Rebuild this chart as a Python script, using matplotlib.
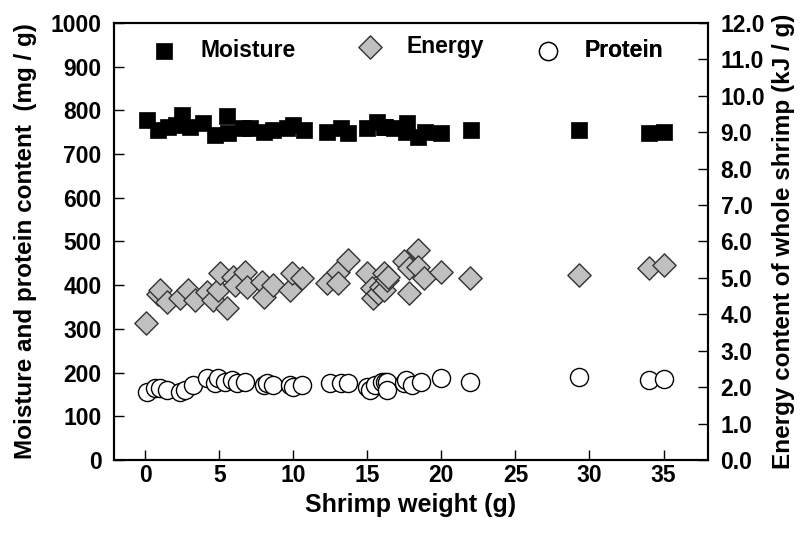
import matplotlib
matplotlib.use("Agg")
import matplotlib.pyplot as plt

plt.rcParams['font.family'] = ['Liberation Sans', 'DejaVu Sans']
plt.rcParams['font.weight'] = 'bold'

# moisture (mg/g) vs shrimp weight (g)
moist_x = [0.1, 0.9, 1.56, 2.1, 2.5, 3.0, 3.9, 4.7, 5.5, 5.6, 6.6, 7.1, 8.0, 8.66,
           9.6, 10.0, 10.7, 12.3, 13.2, 13.7, 15.0, 15.65, 16.1, 16.2, 16.8, 17.6,
           17.7, 18.45, 18.9, 20.0, 22.0, 29.3, 34.0, 35.0]
moist_y = [778, 755, 763, 767, 789, 763, 771, 744, 786, 748, 760, 760, 751, 755,
           760, 767, 755, 751, 760, 748, 760, 774, 763, 763, 760, 751,
           771, 740, 751, 748, 755, 755, 748, 751]

# energy (kJ/g) vs shrimp weight (g)
energy_x = [0.05, 0.9, 1.0, 1.47, 2.36, 2.9, 3.4, 4.17, 4.6, 4.9, 5.07, 5.5, 5.95,
            6.08, 6.76, 6.87, 7.9, 8.0, 8.66, 9.8, 9.9, 10.6, 12.3, 13.05, 13.05,
            13.7, 15.0, 15.3, 15.4, 15.75, 15.9, 16.1, 16.1, 16.3, 16.4, 17.45,
            17.8, 17.8, 18.4, 18.45, 18.8, 20.0, 21.96, 29.3, 34.0, 35.0]
energy_y = [3.77, 4.55, 4.67, 4.34, 4.45, 4.67, 4.39, 4.62, 4.39, 4.67, 5.14, 4.18,
            5.03, 4.80, 5.16, 4.76, 4.90, 4.48, 4.80, 4.67, 5.14, 4.99, 4.86, 5.16,
            4.86, 5.50, 5.14, 4.73, 4.45, 4.58, 4.75, 4.67, 5.14, 4.94, 5.03, 5.45,
            5.27, 4.58, 5.77, 5.30, 4.99, 5.16, 4.99, 5.08, 5.27, 5.35]

# protein (mg/g) vs shrimp weight (g)
prot_x = [0.1, 0.7, 1.0, 1.47, 2.36, 2.7, 3.25, 4.2, 4.7, 4.95, 5.4, 5.85, 6.2,
          6.76, 8.0, 8.2, 8.66, 9.8, 10.0, 10.6, 12.5, 13.2, 13.7, 15.0, 15.2,
          15.5, 16.0, 16.2, 16.3, 16.3, 17.45, 17.6, 18.0, 18.6, 20.0, 21.96,
          29.3, 34.0, 35.0]
prot_y = [156, 165, 165, 160, 156, 160, 171, 187, 176, 187, 179, 183, 176,
          179, 171, 176, 171, 171, 168, 171, 176, 176, 176, 168, 160,
          171, 179, 179, 179, 160, 176, 183, 171, 179, 187, 179,
          190, 183, 185]

fs = 16.5

fig = plt.figure(figsize=(8, 5.33), dpi=100)
ax = fig.add_axes([0.1425, 0.137, 0.7425, 0.82])
ax2 = ax.twinx()

sq = ax.scatter(moist_x, moist_y, marker='s', s=125, c='black', edgecolors='black',
                linewidths=0.5, zorder=3, label='Moisture')
di = ax2.scatter(energy_x, energy_y, marker='D', s=140, c='#c0c0c0', edgecolors='#333333',
                 linewidths=1.0, zorder=3, label='Energy')
ci = ax.scatter(prot_x, prot_y, marker='o', s=170, c='white', edgecolors='black',
                linewidths=1.0, zorder=4, label='Protein')
ax.set_zorder(ax2.get_zorder() + 1)
ax.patch.set_visible(False)

ax.set_xlim(-2.1, 38)
ax.set_ylim(0, 1000)
ax2.set_ylim(0, 12)
ax.set_xticks(range(0, 36, 5))
ax.set_yticks(range(0, 1001, 100))
ax2.set_yticks(range(0, 13))
ax2.set_yticklabels([f"{v:.1f}" for v in range(0, 13)])

for a in (ax, ax2):
    for s in a.spines.values():
        s.set_linewidth(1.5)
    a.tick_params(direction='in', length=7, width=1, labelsize=fs, pad=9)
ax.tick_params(axis='x', top=False, pad=3)
ax.tick_params(axis='y', right=False)

ax.set_xlabel('Shrimp weight (g)', fontsize=18, fontweight='bold', labelpad=4)
ax.set_ylabel('Moisture and protein content  (mg / g)', fontsize=17.5,
              fontweight='bold', labelpad=10)
ax2.set_ylabel('Energy content of whole shrimp (kJ / g)', fontsize=17.5,
               fontweight='bold', labelpad=5)

# three separate legend entries, spaced like the original
entries = [(sq, 'Moisture', 0.176, 0.938), (di, 'Energy', 0.507, 0.945),
           (ci, 'Protein', 0.808, 0.938)]
for h, lab, lx, ly in entries:
    leg = ax.legend([h], [lab], loc='center', bbox_to_anchor=(lx, ly),
                    frameon=False, fontsize=fs, handletextpad=0.6,
                    handlelength=2.0, borderpad=0, borderaxespad=0)
    ax.add_artist(leg)

fig.savefig('out.png', dpi=100)
